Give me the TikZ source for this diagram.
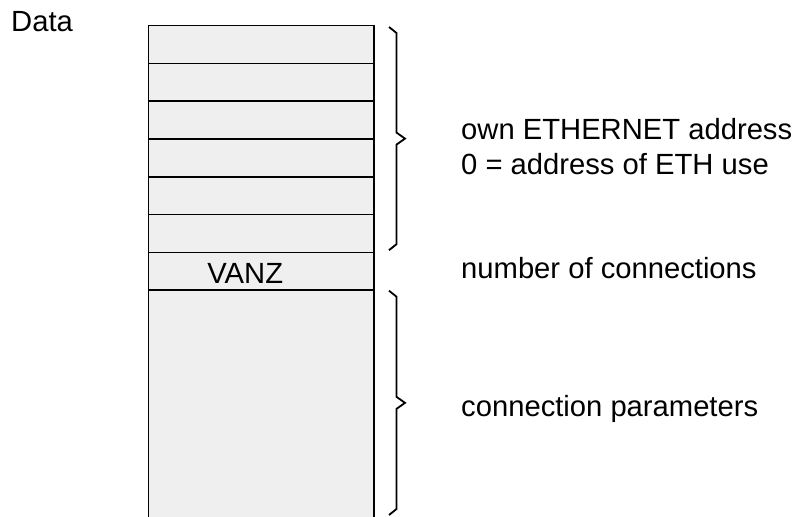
\documentclass[tikz,border=0pt]{standalone}
\usepackage{fontspec}
\setmainfont{Liberation Sans}
\usetikzlibrary{positioning, calc}
\definecolor{cellgray}{RGB}{239,239,239}
\tikzset{
  cell/.style = {rectangle, draw=black, fill=cellgray, line width=1.6pt,
                 minimum width=225.5pt, minimum height=37.8pt,
                 inner sep=0pt, outer sep=0pt},
  bracepath/.style = {line width=1.8pt, line join=miter},
  note/.style = {anchor=base west, inner sep=0pt, align=left}
}
% angular brace to the right of a column of cells
\newcommand{\fieldbrace}[2]{%
  \draw[bracepath] let \p1=(#1), \p2=(#2), \n1={(\y1+\y2)/2} in
    (\x1+15pt,\y1) -- (\x1+22.5pt,\y1-6pt) -- (\x1+22.5pt,\n1+6pt)
    -- (\x1+31pt,\n1) -- (\x1+22.5pt,\n1-6pt) -- (\x1+22.5pt,\y2+6pt)
    -- (\x1+15pt,\y2);}

\begin{document}
\begin{tikzpicture}[x=1pt, y=1pt, font=\fontsize{29.2}{34.7}\selectfont]
\useasboundingbox (0,0) rectangle (799,516);

\node[note] (data) at (11,484.3) {Data};

% address cells
\node[cell] (addr1) at (261.25,471.4) {};
\foreach \i [remember=\i as \last (initially 1)] in {2,...,6}
  \node[cell, below=0pt of addr\last] (addr\i) {};
\node[cell, below=0pt of addr6] (vanz) {};
\node[cell, below=0pt of vanz, minimum height=240pt] (params) {};
\node[anchor=base, inner sep=0pt] (vanztext) at ([xshift=-16pt]vanz.center |- 0,232.7) {VANZ};

\fieldbrace{[yshift=-1.3pt]addr1.north east}{[yshift=2.3pt]addr6.south east}
\coordinate (paramsend) at (374,1);
\fieldbrace{[yshift=-0.4pt]vanz.south east}{paramsend}

\node[note, anchor=west] (addrnote) at (461,369.2)
  {own ETHERNET address\\0 = address of ETH use};
\node[note] (vanznote) at (461,237.7) {number of connections};
\node[note] (paramsnote) at (461,99.3) {connection parameters};
\end{tikzpicture}
\end{document}
